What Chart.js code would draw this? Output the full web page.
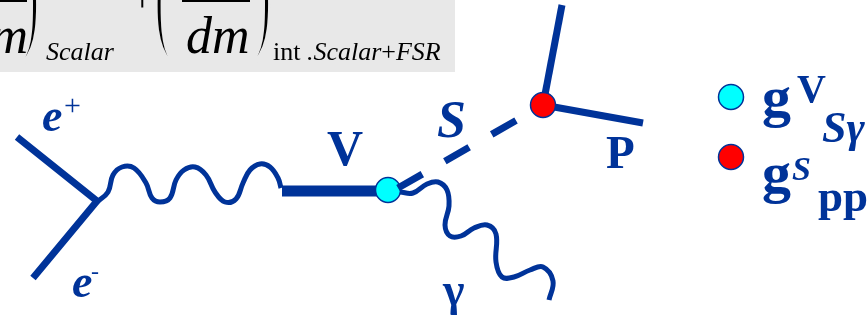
<!DOCTYPE html>
<html>
<head>
<meta charset="utf-8">
<script src="https://cdn.jsdelivr.net/npm/chart.js@4.4.1/dist/chart.umd.min.js"></script>
<style>
  html, body { margin: 0; padding: 0; background: #ffffff; }
  #wrap { width: 868px; height: 322px; }
</style>
</head>
<body>
<div id="wrap"><canvas id="diagram" width="868" height="322"></canvas></div>
<script>
// ---- diagram geometry (x, y in a 868 x 322 plane, y pointing down) ----
const electronLegs   = [[17, 137], [97, 201], [33, 278]];
const virtualPhoton  = [[97, 202], [108, 192], [113, 175], [122, 167], [134, 168], [146, 183],
                        [152, 198], [160, 202], [170, 198], [176, 180], [184, 170], [195, 167],
                        [206, 175], [215, 192], [225, 202], [236, 199], [243, 183], [250, 170],
                        [260, 164], [270, 167], [278, 178], [281, 188]];
const vectorMeson    = [[282, 191], [388, 191]];
const scalarMeson    = [[398, 188], [543, 105]];
const radiatedPhoton = [[400, 192], [413, 193], [427, 184], [438, 182], [447, 190], [449, 206],
                        [445, 225], [450, 236], [461, 236], [474, 228], [487, 225], [496, 234],
                        [496, 262], [502, 277], [514, 277], [530, 270], [543, 267], [553, 281],
                        [549, 300]];
const pseudoscalarUp    = [[543, 105], [562, 5]];
const pseudoscalarRight = [[543, 105], [643, 123]];
const vertexVSg  = [[388, 190]];
const vertexSPP  = [[543, 105]];
const legendVSg  = [[731, 97]];
const legendSPP  = [[731, 157]];

const BLUE = '#003399';
const STRIP = '#e8e8e8';
const toXY = pts => pts.map(([x, y]) => ({ x, y }));

function lineSet(pts, width, extra) {
  return Object.assign({
    data: toXY(pts), showLine: true, borderColor: BLUE, borderWidth: width,
    pointRadius: 0, pointHoverRadius: 0, tension: 0, borderCapStyle: 'butt',
    borderJoinStyle: 'miter', fill: false, order: 3
  }, extra || {});
}
function dotSet(pts, color, order) {
  return {
    data: toXY(pts), showLine: false, pointRadius: 12.5, pointHoverRadius: 12.5,
    pointBackgroundColor: color, pointBorderColor: BLUE, pointBorderWidth: 1.5, order
  };
}

// ---- formula strip and labels ----
const formulaBox = [0, 0, 455, 72];
const fractionBars = [[-2, 27, 1], [182, 250, 1]];
const serif = '"Liberation Serif", "Times New Roman", serif';

// tall delimiters: left edge, top and bottom of the ink box
const delimiters = [
  { t: ')', left: 22, top: -56, bottom: 66 },
  { t: '(', left: 156, top: -56, bottom: 66 },
  { t: ')', left: 254, top: -57, bottom: 65 }
];

const texts = [
  // formula (black)
  { t: 'dm', x: 28, y: 53, f: `italic 52px ${serif}`, c: '#000', a: 'right' },
  { t: 'Scalar', x: 46, y: 60, f: `italic 26px ${serif}`, c: '#000' },
  { t: '+', x: 131, y: 11, f: `40px ${serif}`, c: '#000' },
  { t: 'dm', x: 186, y: 53, f: `italic 52px ${serif}`, c: '#000' },
  { x: 273, y: 60, c: '#000', runs: [
      ['int', `26px ${serif}`], [' .Scalar', `italic 26px ${serif}`],
      ['+', `26px ${serif}`], ['FSR', `italic 26px ${serif}`] ] },
  // particle labels (blue)
  { t: 'e', x: 42, y: 131, f: `italic bold 46px ${serif}`, c: BLUE },
  { t: '+', x: 64, y: 115, f: `30px ${serif}`, c: BLUE },
  { t: 'e', x: 72, y: 297, f: `italic bold 46px ${serif}`, c: BLUE },
  { t: '-', x: 91, y: 279, f: `24px ${serif}`, c: BLUE },
  { t: 'V', x: 327, y: 165, f: `bold 50px ${serif}`, c: BLUE },
  { t: 'S', x: 437, y: 137, f: `italic bold 52px ${serif}`, c: BLUE },
  { t: 'P', x: 606, y: 168, f: `bold 47px ${serif}`, c: BLUE },
  { t: 'γ', x: 443, y: 305, f: `bold 46px ${serif}`, c: BLUE },
  // coupling legend
  { t: 'g', x: 762, y: 116, f: `bold 58px ${serif}`, c: BLUE },
  { t: 'V', x: 797, y: 102, f: `bold 40px ${serif}`, c: BLUE },
  { t: 'Sγ', x: 822, y: 142, f: `italic bold 44px ${serif}`, c: BLUE },
  { t: 'g', x: 762, y: 192, f: `bold 58px ${serif}`, c: BLUE },
  { t: 'S', x: 792, y: 180, f: `italic bold 34px ${serif}`, c: BLUE },
  { t: 'pp', x: 818, y: 211, f: `bold 45px ${serif}`, c: BLUE }
];

const decorations = {
  id: 'decorations',
  beforeDatasetsDraw(chart) {
    const { ctx, scales: { x, y } } = chart;
    ctx.save();
    ctx.fillStyle = STRIP;
    const x0 = x.getPixelForValue(formulaBox[0]), y0 = y.getPixelForValue(formulaBox[1]);
    const x1 = x.getPixelForValue(formulaBox[2]), y1 = y.getPixelForValue(formulaBox[3]);
    ctx.fillRect(x0, y0, x1 - x0, y1 - y0);
    ctx.strokeStyle = '#000';
    ctx.lineWidth = 2;
    fractionBars.forEach(([a, b, h]) => {
      ctx.beginPath();
      ctx.moveTo(x.getPixelForValue(a), y.getPixelForValue(h));
      ctx.lineTo(x.getPixelForValue(b), y.getPixelForValue(h));
      ctx.stroke();
    });
    // stretched parentheses, thinned with a strip-coloured outline
    ctx.fillStyle = '#000';
    ctx.strokeStyle = STRIP;
    ctx.lineWidth = 2.2;
    ctx.lineJoin = 'round';
    ctx.textAlign = 'left';
    ctx.textBaseline = 'alphabetic';
    ctx.font = `56px ${serif}`;
    delimiters.forEach(d => {
      const m = ctx.measureText(d.t);
      const asc = m.actualBoundingBoxAscent, desc = m.actualBoundingBoxDescent;
      const top = y.getPixelForValue(d.top), bottom = y.getPixelForValue(d.bottom);
      const sy = (bottom - top) / (asc + desc);
      const gx = x.getPixelForValue(d.left) + m.actualBoundingBoxLeft, gy = bottom / sy - desc;
      ctx.save();
      ctx.scale(1, sy);
      ctx.fillText(d.t, gx, gy);
      ctx.strokeText(d.t, gx, gy);
      ctx.restore();
    });
    ctx.restore();
  },
  afterDatasetsDraw(chart) {
    const { ctx, scales: { x, y } } = chart;
    ctx.save();
    ctx.textBaseline = 'alphabetic';
    ctx.textAlign = 'left';
    texts.forEach(o => {
      const px = x.getPixelForValue(o.x), py = y.getPixelForValue(o.y);
      ctx.fillStyle = o.c;
      if (o.runs) {
        let cx = px;
        o.runs.forEach(([t, f]) => {
          ctx.font = f;
          ctx.fillText(t, cx, py);
          cx += ctx.measureText(t).width;
        });
        return;
      }
      ctx.font = o.f;
      ctx.textAlign = o.a || 'left';
      ctx.fillText(o.t, px, py);
      ctx.textAlign = 'left';
    });
    ctx.restore();
  }
};

new Chart(document.getElementById('diagram'), {
  type: 'scatter',
  data: {
    datasets: [
      lineSet(vectorMeson, 11, { order: 6 }),
      dotSet(vertexVSg, '#00ffff', 5),
      lineSet(electronLegs, 7),
      lineSet(virtualPhoton, 5, { tension: 0.4, borderJoinStyle: 'round' }),
      lineSet(scalarMeson, 7, { borderDash: [28, 26] }),
      lineSet(radiatedPhoton, 5, { tension: 0.4, borderJoinStyle: 'round' }),
      lineSet(pseudoscalarUp, 7),
      lineSet(pseudoscalarRight, 7),
      dotSet(vertexSPP, '#ff0000', 1),
      dotSet(legendVSg, '#00ffff', 1),
      dotSet(legendSPP, '#ff0000', 1)
    ]
  },
  options: {
    responsive: false,
    animation: false,
    events: [],
    layout: { padding: 0, autoPadding: false },
    plugins: { legend: { display: false }, tooltip: { enabled: false } },
    scales: {
      x: { type: 'linear', min: 0, max: 868, display: false },
      y: { type: 'linear', min: 0, max: 322, reverse: true, display: false }
    }
  },
  plugins: [decorations]
});
</script>
</body>
</html>
